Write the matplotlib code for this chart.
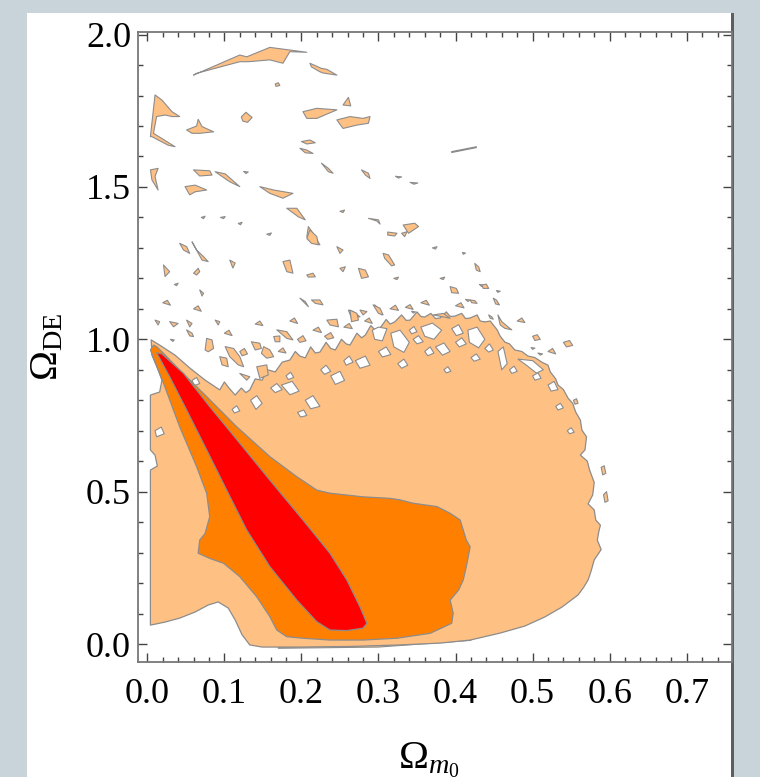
import matplotlib
matplotlib.use("Agg")
import matplotlib.pyplot as plt
from matplotlib.patches import Rectangle
from matplotlib.ticker import MultipleLocator, FormatStrFormatter

# ---------------- data (contour boundaries, data units) -------------
x_ticks = [0.0, 0.1, 0.2, 0.3, 0.4, 0.5, 0.6, 0.7]
y_ticks = [0.0, 0.5, 1.0, 1.5, 2.0]

# 3-sigma (light) region outline
light_region = [
    (0.005, 0.998), (0.016, 0.981), (0.036, 0.948), (0.055, 0.906), (0.075, 0.866),
    (0.094, 0.834), (0.100, 0.860), (0.106, 0.840), (0.114, 0.817), (0.122, 0.840),
    (0.128, 0.825), (0.133, 0.834), (0.140, 0.870), (0.149, 0.866), (0.156, 0.900),
    (0.166, 0.893), (0.175, 0.925), (0.185, 0.932), (0.192, 0.960), (0.198, 0.945),
    (0.205, 0.939), (0.212, 0.975), (0.218, 0.955), (0.224, 0.958), (0.232, 0.990),
    (0.238, 0.970), (0.244, 0.965), (0.252, 1.000), (0.258, 0.985), (0.263, 0.981),
    (0.272, 1.020), (0.278, 1.005), (0.283, 1.014), (0.290, 1.045), (0.296, 1.030),
    (0.302, 1.037), (0.310, 1.065), (0.315, 1.050), (0.321, 1.057), (0.330, 1.080),
    (0.336, 1.062), (0.341, 1.063), (0.350, 1.090), (0.355, 1.075), (0.360, 1.073),
    (0.368, 1.085), (0.374, 1.068), (0.380, 1.070), (0.388, 1.090), (0.393, 1.075),
    (0.399, 1.076), (0.408, 1.085), (0.413, 1.068), (0.419, 1.070), (0.428, 1.080),
    (0.432, 1.060), (0.438, 1.057), (0.445, 1.060), (0.454, 1.031), (0.458, 1.010),
    (0.464, 0.991), (0.470, 0.985), (0.477, 0.965), (0.486, 0.960), (0.494, 0.945),
    (0.503, 0.940), (0.512, 0.925), (0.520, 0.915), (0.523, 0.893), (0.530, 0.870),
    (0.533, 0.850), (0.540, 0.835), (0.546, 0.807), (0.552, 0.790), (0.556, 0.761),
    (0.562, 0.735), (0.564, 0.702), (0.570, 0.680), (0.568, 0.637), (0.562, 0.620),
    (0.571, 0.600), (0.574, 0.571), (0.580, 0.530), (0.578, 0.489), (0.572, 0.460),
    (0.580, 0.440), (0.582, 0.407), (0.588, 0.390), (0.586, 0.370), (0.584, 0.341),
    (0.589, 0.310), (0.580, 0.276), (0.576, 0.240), (0.572, 0.210), (0.566, 0.185),
    (0.559, 0.161), (0.538, 0.121), (0.516, 0.089), (0.490, 0.059), (0.458, 0.036),
    (0.419, 0.013), (0.380, 0.003), (0.328, -0.003), (0.263, -0.008), (0.198, -0.010),
    (0.149, -0.010), (0.133, -0.003), (0.123, 0.030), (0.114, 0.079), (0.105, 0.118),
    (0.092, 0.138), (0.079, 0.128), (0.062, 0.105), (0.042, 0.085), (0.023, 0.072),
    (0.004, 0.062), (0.004, 0.571), (0.013, 0.584), (0.010, 0.620), (0.004, 0.637),
    (0.004, 0.817), (0.016, 0.827), (0.019, 0.866), (0.013, 0.906), (0.006, 0.948),
]

# 2-sigma (orange) region outline
orange_region = [
    (0.008, 0.981), (0.004, 0.965), (0.021, 0.856), (0.042, 0.713), (0.064, 0.582),
    (0.077, 0.495), (0.081, 0.418), (0.075, 0.363), (0.068, 0.341), (0.066, 0.298),
    (0.081, 0.281), (0.099, 0.265), (0.120, 0.221), (0.142, 0.155), (0.159, 0.090),
    (0.168, 0.046), (0.181, 0.024), (0.202, 0.019), (0.237, 0.013), (0.280, 0.013),
    (0.324, 0.019), (0.367, 0.035), (0.395, 0.068), (0.397, 0.101), (0.393, 0.144),
    (0.404, 0.177), (0.410, 0.210), (0.414, 0.254), (0.419, 0.319), (0.414, 0.341),
    (0.406, 0.407), (0.393, 0.429), (0.376, 0.451), (0.345, 0.462), (0.328, 0.473),
    (0.315, 0.478), (0.280, 0.483), (0.237, 0.495), (0.220, 0.505), (0.194, 0.549),
    (0.159, 0.615), (0.116, 0.713), (0.077, 0.812), (0.042, 0.899), (0.021, 0.954),
    (0.012, 0.976),
]

# 1-sigma (red) region outline
red_region = [
    (0.012, 0.956), (0.029, 0.877), (0.051, 0.768), (0.077, 0.637), (0.103, 0.505),
    (0.129, 0.374), (0.159, 0.254), (0.194, 0.144), (0.220, 0.073), (0.237, 0.046),
    (0.259, 0.044), (0.280, 0.052), (0.285, 0.068), (0.276, 0.122), (0.259, 0.210),
    (0.237, 0.298), (0.202, 0.407), (0.159, 0.538), (0.120, 0.659), (0.081, 0.779),
    (0.047, 0.888), (0.019, 0.952),
]

# thin sliver under the bottom edge of the light region
bottom_sliver = [(0.170, -0.014), (0.300, -0.010), (0.420, 0.012), (0.300, -0.004), (0.170, -0.010)]

# white holes inside the light region
holes = [
    [(0.292, 1.030), (0.300, 1.040), (0.311, 1.035), (0.305, 0.995), (0.295, 1.000)],
    [(0.316, 1.020), (0.328, 1.030), (0.340, 0.990), (0.333, 0.957), (0.320, 0.975)],
    [(0.355, 1.040), (0.370, 1.053), (0.382, 1.030), (0.372, 1.000), (0.360, 1.010)],
    [(0.374, 0.975), (0.385, 0.988), (0.393, 0.960), (0.383, 0.948)],
    [(0.416, 1.030), (0.428, 1.040), (0.438, 1.000), (0.430, 0.972), (0.418, 0.990)],
    [(0.455, 0.960), (0.462, 0.975), (0.467, 0.920), (0.460, 0.900)],
    [(0.481, 0.935), (0.500, 0.930), (0.514, 0.900), (0.505, 0.889), (0.492, 0.915)],
    [(0.438, 0.970), (0.444, 0.985), (0.449, 0.965), (0.443, 0.958)],
    [(0.134, 0.800), (0.142, 0.815), (0.149, 0.790), (0.141, 0.770)],
    [(0.174, 0.850), (0.188, 0.862), (0.197, 0.830), (0.185, 0.818)],
    [(0.205, 0.800), (0.215, 0.815), (0.224, 0.780), (0.212, 0.772)],
    [(0.238, 0.880), (0.250, 0.895), (0.256, 0.865), (0.244, 0.852)],
    [(0.270, 0.930), (0.283, 0.945), (0.289, 0.915), (0.276, 0.905)],
    [(0.195, 0.760), (0.203, 0.768), (0.207, 0.750), (0.199, 0.745)],
    [(0.345, 1.000), (0.352, 1.012), (0.358, 0.992), (0.350, 0.985)],
    [(0.395, 1.035), (0.404, 1.048), (0.410, 1.020), (0.401, 1.012)],
    [(0.520, 0.850), (0.528, 0.862), (0.533, 0.835), (0.524, 0.830)],
    [(0.300, 0.960), (0.310, 0.975), (0.316, 0.950), (0.305, 0.942)],
    [(0.010, 0.700), (0.018, 0.712), (0.022, 0.690), (0.012, 0.680)],
    [(0.058, 0.865), (0.064, 0.875), (0.068, 0.855), (0.061, 0.848)],
    [(0.160, 0.840), (0.168, 0.855), (0.175, 0.835), (0.166, 0.825)],
    [(0.225, 0.900), (0.232, 0.915), (0.238, 0.895), (0.230, 0.885)],
    [(0.255, 0.930), (0.262, 0.945), (0.267, 0.925), (0.258, 0.915)],
    [(0.325, 0.920), (0.333, 0.935), (0.338, 0.915), (0.330, 0.905)],
    [(0.360, 0.960), (0.367, 0.975), (0.372, 0.955), (0.364, 0.946)],
    [(0.400, 0.990), (0.408, 1.005), (0.414, 0.985), (0.405, 0.975)],
    [(0.420, 0.940), (0.427, 0.952), (0.432, 0.935), (0.424, 0.928)],
    [(0.470, 0.900), (0.476, 0.912), (0.480, 0.895), (0.473, 0.888)],
    [(0.500, 0.880), (0.507, 0.890), (0.511, 0.872), (0.503, 0.866)],
    [(0.530, 0.780), (0.536, 0.790), (0.540, 0.775), (0.533, 0.768)],
    [(0.110, 0.770), (0.116, 0.782), (0.120, 0.765), (0.113, 0.758)],
    [(0.180, 0.880), (0.186, 0.892), (0.190, 0.875), (0.183, 0.868)],
    [(0.340, 1.030), (0.346, 1.042), (0.350, 1.025), (0.343, 1.018)],
    [(0.545, 0.700), (0.550, 0.710), (0.554, 0.695), (0.548, 0.690)],
    [(0.385, 0.900), (0.390, 0.910), (0.394, 0.895), (0.388, 0.890)],
]

# isolated light islands above the main region
islands = [
    [(0.060, 1.867), (0.120, 1.933), (0.129, 1.927), (0.159, 1.958), (0.207, 1.942), (0.185, 1.944),
     (0.176, 1.906), (0.159, 1.917), (0.131, 1.911), (0.120, 1.911), (0.064, 1.873)],
    [(0.211, 1.906), (0.226, 1.889), (0.233, 1.886), (0.246, 1.867), (0.228, 1.874), (0.224, 1.878), (0.213, 1.894)],
    [(0.166, 1.838), (0.170, 1.842), (0.172, 1.833), (0.167, 1.830)],
    [(0.004, 1.665), (0.010, 1.802), (0.019, 1.785), (0.032, 1.747), (0.042, 1.731), (0.032, 1.731),
     (0.023, 1.736), (0.012, 1.731), (0.008, 1.676), (0.029, 1.643), (0.036, 1.632), (0.027, 1.637), (0.006, 1.665)],
    [(0.051, 1.687), (0.064, 1.700), (0.066, 1.722), (0.071, 1.698), (0.086, 1.681), (0.068, 1.676), (0.058, 1.676)],
    [(0.122, 1.730), (0.128, 1.745), (0.136, 1.728), (0.130, 1.712), (0.124, 1.716)],
    [(0.202, 1.747), (0.220, 1.758), (0.246, 1.753), (0.220, 1.725), (0.207, 1.725)],
    [(0.246, 1.720), (0.263, 1.731), (0.280, 1.725), (0.289, 1.731), (0.287, 1.709), (0.272, 1.703), (0.254, 1.692)],
    [(0.254, 1.769), (0.261, 1.794), (0.264, 1.766)],
    [(0.395, 1.616), (0.427, 1.632), (0.427, 1.629), (0.395, 1.613)],
    [(0.200, 1.649), (0.211, 1.654), (0.218, 1.645), (0.207, 1.641)],
    [(0.198, 1.627), (0.207, 1.621), (0.215, 1.610), (0.205, 1.612)],
    [(0.004, 1.556), (0.014, 1.561), (0.010, 1.534), (0.014, 1.490), (0.006, 1.523)],
    [(0.060, 1.556), (0.081, 1.553), (0.084, 1.539), (0.068, 1.536)],
    [(0.088, 1.550), (0.101, 1.543), (0.120, 1.501), (0.107, 1.517)],
    [(0.049, 1.501), (0.062, 1.506), (0.077, 1.490), (0.062, 1.484), (0.055, 1.474)],
    [(0.146, 1.501), (0.164, 1.490), (0.189, 1.479), (0.176, 1.463), (0.159, 1.479)],
    [(0.226, 1.578), (0.235, 1.561), (0.241, 1.545), (0.235, 1.550)],
    [(0.278, 1.556), (0.287, 1.545), (0.289, 1.528), (0.283, 1.539)],
    [(0.125, 1.551), (0.131, 1.549), (0.128, 1.544)],
    [(0.322, 1.535), (0.330, 1.533), (0.326, 1.529)],
    [(0.341, 1.515), (0.351, 1.513), (0.346, 1.509)],
    [(0.181, 1.430), (0.194, 1.430), (0.205, 1.392), (0.196, 1.402)],
    [(0.209, 1.370), (0.215, 1.348), (0.224, 1.310), (0.213, 1.320), (0.207, 1.337)],
    [(0.287, 1.397), (0.300, 1.392), (0.302, 1.378), (0.298, 1.388)],
    [(0.332, 1.375), (0.347, 1.381), (0.352, 1.370), (0.339, 1.348)],
    [(0.042, 1.315), (0.051, 1.304), (0.055, 1.282), (0.047, 1.293)],
    [(0.058, 1.320), (0.064, 1.293), (0.073, 1.271), (0.079, 1.255), (0.071, 1.260)],
    [(0.246, 1.304), (0.254, 1.293), (0.250, 1.282)],
    [(0.176, 1.255), (0.185, 1.260), (0.189, 1.217), (0.181, 1.222)],
    [(0.274, 1.233), (0.283, 1.227), (0.287, 1.205), (0.278, 1.200)],
    [(0.393, 1.173), (0.401, 1.167), (0.404, 1.151), (0.395, 1.153)],
    [(0.431, 1.180), (0.437, 1.178), (0.434, 1.173)],
    [(0.021, 1.244), (0.029, 1.222), (0.023, 1.206)],
    [(0.107, 1.260), (0.114, 1.250), (0.111, 1.234)],
    [(0.261, 1.096), (0.267, 1.091), (0.276, 1.074), (0.265, 1.069)],
    [(0.295, 1.113), (0.302, 1.096), (0.304, 1.080)],
    [(0.371, 1.080), (0.384, 1.085), (0.393, 1.069)],
    [(0.413, 1.131), (0.419, 1.129), (0.416, 1.124)],
    [(0.060, 1.217), (0.066, 1.233), (0.068, 1.222), (0.064, 1.211)],
    [(0.068, 1.162), (0.073, 1.151), (0.071, 1.142)],
    [(0.207, 1.211), (0.215, 1.217), (0.218, 1.205), (0.209, 1.204)],
    [(0.250, 1.233), (0.257, 1.238), (0.254, 1.222)],
    [(0.211, 1.359), (0.220, 1.337), (0.222, 1.310), (0.213, 1.315), (0.207, 1.331)],
    [(0.198, 1.135), (0.205, 1.124), (0.209, 1.107)],
    [(0.213, 1.129), (0.224, 1.129), (0.228, 1.113), (0.218, 1.118)],
    [(0.263, 1.096), (0.272, 1.085), (0.274, 1.063), (0.265, 1.058)],
    [(0.276, 1.096), (0.285, 1.091), (0.280, 1.080)],
    [(0.233, 1.063), (0.246, 1.066), (0.248, 1.041), (0.237, 1.047)],
    [(0.164, 1.009), (0.172, 1.011), (0.172, 0.992), (0.166, 0.992)],
    [(0.168, 1.031), (0.181, 1.025), (0.189, 0.998), (0.181, 1.003)],
    [(0.077, 1.003), (0.084, 0.998), (0.086, 0.970), (0.079, 0.959), (0.075, 0.965)],
    [(0.101, 0.976), (0.112, 0.970), (0.120, 0.943), (0.125, 0.910), (0.118, 0.916), (0.107, 0.943)],
    [(0.135, 0.992), (0.146, 0.987), (0.148, 0.970), (0.140, 0.965)],
    [(0.030, 1.000), (0.035, 0.998), (0.033, 0.993)],
    [(0.029, 1.058), (0.040, 1.052), (0.034, 1.041)],
    [(0.051, 1.063), (0.058, 1.052), (0.055, 1.041)],
    [(0.088, 1.063), (0.094, 1.058), (0.092, 1.047)],
    [(0.051, 1.031), (0.058, 1.020), (0.060, 1.009), (0.055, 1.011)],
    [(0.010, 1.063), (0.016, 1.058), (0.014, 1.047)],
    [(0.151, 0.976), (0.159, 0.965), (0.164, 0.943), (0.155, 0.938), (0.148, 0.954)],
    [(0.142, 0.910), (0.155, 0.916), (0.157, 0.883), (0.146, 0.872)],
    [(0.094, 0.943), (0.103, 0.938), (0.105, 0.910), (0.097, 0.916)],
    [(0.120, 0.888), (0.133, 0.877), (0.129, 0.866)],
    [(0.306, 1.282), (0.313, 1.277), (0.321, 1.244), (0.317, 1.241), (0.308, 1.266)],
    [(0.312, 1.352), (0.324, 1.348), (0.321, 1.339), (0.312, 1.342)],
    [(0.330, 1.348), (0.337, 1.353), (0.334, 1.337)],
    [(0.425, 1.249), (0.430, 1.238), (0.432, 1.222), (0.427, 1.227)],
    [(0.409, 1.285), (0.413, 1.283), (0.410, 1.279)],
    [(0.434, 1.178), (0.440, 1.181), (0.443, 1.167), (0.436, 1.167)],
    [(0.453, 1.160), (0.458, 1.158), (0.455, 1.154)],
    [(0.419, 1.129), (0.425, 1.127), (0.428, 1.118), (0.421, 1.120)],
    [(0.449, 1.135), (0.453, 1.129), (0.457, 1.113), (0.452, 1.116)],
    [(0.443, 1.080), (0.447, 1.074), (0.449, 1.066), (0.445, 1.069)],
    [(0.455, 1.080), (0.460, 1.058), (0.468, 1.041), (0.473, 1.031), (0.464, 1.036), (0.458, 1.047)],
    [(0.293, 1.113), (0.302, 1.102), (0.306, 1.080), (0.300, 1.085)],
    [(0.343, 1.092), (0.348, 1.090), (0.345, 1.086)],
    [(0.498, 0.973), (0.503, 0.971), (0.500, 0.967)],
    [(0.507, 0.955), (0.513, 0.952), (0.510, 0.948)],
    [(0.589, 0.580), (0.593, 0.585), (0.595, 0.560), (0.591, 0.555)],
    [(0.592, 0.490), (0.596, 0.500), (0.598, 0.470), (0.594, 0.465)],
    [(0.540, 0.990), (0.548, 0.996), (0.552, 0.980), (0.544, 0.975)],
    [(0.553, 0.800), (0.557, 0.805), (0.559, 0.790), (0.555, 0.787)],
    [(0.500, 1.010), (0.506, 1.015), (0.510, 1.000), (0.503, 0.996)],
    [(0.070, 1.400), (0.075, 1.404), (0.073, 1.396)],
    [(0.095, 1.400), (0.101, 1.403), (0.099, 1.396)],
    [(0.250, 1.420), (0.256, 1.424), (0.254, 1.416)],
    [(0.155, 1.345), (0.161, 1.349), (0.159, 1.341)],
    [(0.118, 1.380), (0.123, 1.384), (0.121, 1.376)],
    [(0.370, 1.300), (0.376, 1.304), (0.374, 1.296)],
    [(0.035, 1.180), (0.040, 1.184), (0.038, 1.176)],
    [(0.320, 1.200), (0.326, 1.204), (0.324, 1.196)],
    [(0.380, 1.200), (0.386, 1.204), (0.384, 1.196)],
    [(0.120, 0.960), (0.126, 0.970), (0.130, 0.952), (0.123, 0.946)],
    [(0.170, 0.960), (0.176, 0.972), (0.180, 0.955)],
    [(0.195, 1.000), (0.202, 1.012), (0.206, 0.995), (0.198, 0.990)],
    [(0.215, 1.030), (0.222, 1.040), (0.226, 1.022)],
    [(0.255, 1.040), (0.262, 1.052), (0.266, 1.035)],
    [(0.315, 1.100), (0.322, 1.112), (0.326, 1.095)],
    [(0.355, 1.120), (0.362, 1.128), (0.366, 1.112)],
    [(0.400, 1.110), (0.407, 1.120), (0.411, 1.103)],
    [(0.480, 1.060), (0.486, 1.070), (0.490, 1.055)],
    [(0.520, 0.960), (0.526, 0.970), (0.530, 0.952)],
    [(0.140, 1.050), (0.146, 1.060), (0.150, 1.045)],
    [(0.100, 1.020), (0.106, 1.030), (0.110, 1.012)],
    [(0.020, 1.120), (0.026, 1.128), (0.030, 1.112)],
    [(0.060, 1.100), (0.066, 1.110), (0.070, 1.092)],
    [(0.230, 1.010), (0.238, 1.022), (0.242, 1.005), (0.234, 1.000)],
    [(0.282, 1.060), (0.288, 1.070), (0.292, 1.052)],
    [(0.335, 1.105), (0.341, 1.114), (0.345, 1.098)],
    [(0.185, 1.060), (0.191, 1.070), (0.195, 1.052)],
]

# ---------------- style ---------------------------------------------------------------
plt.rcParams["font.family"] = ["Liberation Serif", "DejaVu Serif"]
plt.rcParams["mathtext.fontset"] = "custom"
plt.rcParams["mathtext.rm"] = "Liberation Serif"
plt.rcParams["mathtext.it"] = "Liberation Serif:italic"
plt.rcParams["mathtext.bf"] = "Liberation Serif:bold"

LIGHT = "#FFC083"
ORANGE = "#FF8000"
RED = "#FF0000"
EDGE = "#8C8C8C"

fig = plt.figure(figsize=(7.6, 7.77), dpi=100)
fig.patch.set_facecolor("#C8D3DA")
# white panel and its dark right border (behind the axes)
fig.add_artist(Rectangle((27 / 760, 0), (731 - 27) / 760, (777 - 13) / 777,
                         transform=fig.transFigure, facecolor="white", edgecolor="none", zorder=-10))
fig.add_artist(Rectangle((731 / 760, 0), 3 / 760, (777 - 13) / 777,
                         transform=fig.transFigure, facecolor="#5E5E5E", edgecolor="none", zorder=-10))

ax = fig.add_axes([138 / 760, 1 - 662.3 / 777, (732 - 138) / 760, (662.3 - 32) / 777])
ax.set_facecolor("white")


def draw(poly, face, z, lw=0.9):
    xs = [p[0] for p in poly]
    ys = [p[1] for p in poly]
    ax.fill(xs, ys, facecolor=face, edgecolor=EDGE, linewidth=lw, zorder=z, joinstyle="round")


draw(bottom_sliver, LIGHT, 1, 0.8)
draw(light_region, LIGHT, 2)
for h in holes:
    draw(h, "white", 3, 0.8)
for isl in islands:
    draw(isl, LIGHT, 3, 0.8)
draw(orange_region, ORANGE, 4)
draw(red_region, RED, 5)

ax.set_xlim(-0.0121, 0.7588)
ax.set_ylim(-0.060, 2.0085)

ax.set_xticks(x_ticks)
ax.set_yticks(y_ticks)
ax.xaxis.set_major_formatter(FormatStrFormatter("%.1f"))
ax.yaxis.set_major_formatter(FormatStrFormatter("%.1f"))
ax.xaxis.set_minor_locator(MultipleLocator(0.02))
ax.yaxis.set_minor_locator(MultipleLocator(0.1))
ax.tick_params(which="both", direction="in", top=True, right=True, color="#444444", width=1.0)
ax.tick_params(which="major", length=6.5, labelsize=26)
ax.tick_params(which="minor", length=3.6)
ax.tick_params(axis="x", which="major", pad=11)
ax.tick_params(axis="y", which="major", pad=5)

for s in ax.spines.values():
    s.set_color("#777777")
    s.set_linewidth(1.3)

ax.set_xlabel(r"$\Omega_{m_0}$", fontsize=29)
ax.xaxis.set_label_coords(0.49, -0.123)
ax.xaxis.label.set_va("top")
ax.set_ylabel(r"$\Omega_{\mathrm{DE}}$", fontsize=29)
ax.yaxis.set_label_coords(-0.121, 0.5)

fig.savefig("out.png", dpi=100, facecolor=fig.get_facecolor())
